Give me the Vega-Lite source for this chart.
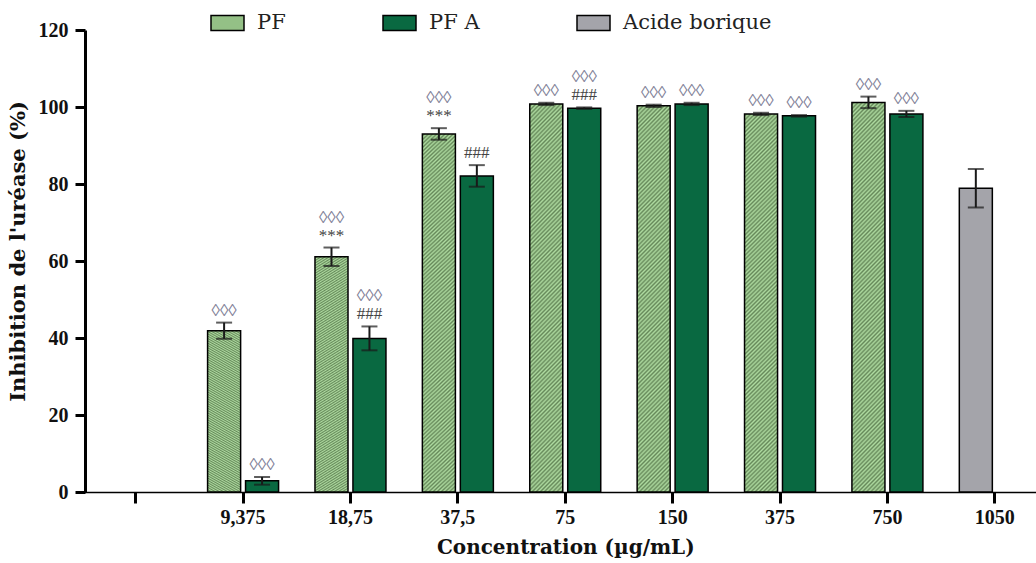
{
  "$schema": "https://vega.github.io/schema/vega-lite/v6.json",
  "autosize": {"type": "none"},
  "width": 951,
  "height": 462,
  "padding": {"left": 85, "top": 30, "right": 0, "bottom": 71},
  "background": "white",
  "config": {
    "view": {"stroke": null},
    "axis": {"grid": false, "domainColor": "black", "tickColor": "black", "labelColor": "#111", "titleColor": "#111"}
  },
  "data": {
    "values": [
      {"conc": "9,375", "series": "PF", "slot": "a", "value": 41.9, "lo": 39.8, "hi": 44.0, "sig": "◊◊◊", "sigTop": ""},
      {"conc": "9,375", "series": "PF A", "slot": "b", "value": 2.9, "lo": 1.9, "hi": 3.9, "sig": "◊◊◊", "sigTop": ""},
      {"conc": "18,75", "series": "PF", "slot": "a", "value": 61.1, "lo": 58.7, "hi": 63.5, "sig": "***", "sigTop": "◊◊◊"},
      {"conc": "18,75", "series": "PF A", "slot": "b", "value": 39.9, "lo": 36.8, "hi": 43.0, "sig": "###", "sigTop": "◊◊◊"},
      {"conc": "37,5", "series": "PF", "slot": "a", "value": 93.0, "lo": 91.5, "hi": 94.5, "sig": "***", "sigTop": "◊◊◊"},
      {"conc": "37,5", "series": "PF A", "slot": "b", "value": 82.1, "lo": 79.3, "hi": 84.9, "sig": "###", "sigTop": ""},
      {"conc": "75", "series": "PF", "slot": "a", "value": 100.8, "lo": 100.5, "hi": 101.1, "sig": "◊◊◊", "sigTop": ""},
      {"conc": "75", "series": "PF A", "slot": "b", "value": 99.7, "lo": 99.5, "hi": 99.9, "sig": "###", "sigTop": "◊◊◊"},
      {"conc": "150", "series": "PF", "slot": "a", "value": 100.3, "lo": 100.0, "hi": 100.6, "sig": "◊◊◊", "sigTop": ""},
      {"conc": "150", "series": "PF A", "slot": "b", "value": 100.8, "lo": 100.5, "hi": 101.1, "sig": "◊◊◊", "sigTop": ""},
      {"conc": "375", "series": "PF", "slot": "a", "value": 98.2, "lo": 97.9, "hi": 98.5, "sig": "◊◊◊", "sigTop": ""},
      {"conc": "375", "series": "PF A", "slot": "b", "value": 97.7, "lo": 97.5, "hi": 97.9, "sig": "◊◊◊", "sigTop": ""},
      {"conc": "750", "series": "PF", "slot": "a", "value": 101.2, "lo": 99.7, "hi": 102.7, "sig": "◊◊◊", "sigTop": ""},
      {"conc": "750", "series": "PF A", "slot": "b", "value": 98.2, "lo": 97.4, "hi": 99.0, "sig": "◊◊◊", "sigTop": ""},
      {"conc": "1050", "series": "Acide borique", "slot": "a", "value": 78.9, "lo": 73.9, "hi": 83.9, "sig": "", "sigTop": ""}
    ]
  },
  "encoding": {
    "x": {
      "field": "conc",
      "type": "nominal",
      "sort": null,
      "scale": {
        "domain": [" ", "9,375", "18,75", "37,5", "75", "150", "375", "750", "1050"],
        "range": [-3, 963.5],
        "paddingInner": 0.339,
        "paddingOuter": 0.1695
      },
      "axis": {
        "title": "Concentration (µg/mL)",
        "titleFont": "DejaVu Serif",
        "titleFontWeight": "bold",
        "titleFontSize": 20,
        "titlePadding": 10,
        "labelFont": "Liberation Serif",
        "labelFontWeight": "bold",
        "labelFontSize": 20,
        "labelAngle": 0,
        "labelPadding": 4,
        "tickSize": 11,
        "tickWidth": 3,
        "domainWidth": 1.5
      }
    },
    "xOffset": {
      "field": "slot",
      "type": "nominal",
      "scale": {"domain": ["a", "b"], "paddingInner": 0.13, "paddingOuter": 0}
    }
  },
  "layer": [
    {
      "mark": {"type": "bar", "stroke": "black", "strokeWidth": 1.5},
      "encoding": {
        "y": {
          "field": "value",
          "type": "quantitative",
          "scale": {"domain": [0, 120], "nice": false},
          "axis": {
            "values": [0, 20, 40, 60, 80, 100, 120],
            "title": "Inhibition de l'uréase (%)",
            "titleFont": "DejaVu Serif",
            "titleFontWeight": "bold",
            "titleFontSize": 21,
            "titlePadding": 10,
            "titleY": 221,
            "labelFont": "Liberation Serif",
            "labelFontWeight": "bold",
            "labelFontSize": 20,
            "labelPadding": 7,
            "tickSize": 10,
            "tickWidth": 3,
            "domainWidth": 3
          }
        },
        "fill": {
          "condition": {
            "test": "datum.series === 'PF'",
            "value": {
              "gradient": "linear", "x1": 0, "y1": 0, "x2": 0.094, "y2": 1.079,
              "stops": [
                {"offset":0,"color":"#aedba0"},{"offset":0.005,"color":"#66895a"},{"offset":0.01,"color":"#aedba0"},{"offset":0.015,"color":"#66895a"},
                {"offset":0.02,"color":"#aedba0"},{"offset":0.025,"color":"#66895a"},{"offset":0.03,"color":"#aedba0"},{"offset":0.035,"color":"#66895a"},
                {"offset":0.04,"color":"#aedba0"},{"offset":0.045,"color":"#66895a"},{"offset":0.05,"color":"#aedba0"},{"offset":0.055,"color":"#66895a"},
                {"offset":0.06,"color":"#aedba0"},{"offset":0.065,"color":"#66895a"},{"offset":0.07,"color":"#aedba0"},{"offset":0.075,"color":"#66895a"},
                {"offset":0.08,"color":"#aedba0"},{"offset":0.085,"color":"#66895a"},{"offset":0.09,"color":"#aedba0"},{"offset":0.095,"color":"#66895a"},
                {"offset":0.1,"color":"#aedba0"},{"offset":0.105,"color":"#66895a"},{"offset":0.11,"color":"#aedba0"},{"offset":0.115,"color":"#66895a"},
                {"offset":0.12,"color":"#aedba0"},{"offset":0.125,"color":"#66895a"},{"offset":0.13,"color":"#aedba0"},{"offset":0.135,"color":"#66895a"},
                {"offset":0.14,"color":"#aedba0"},{"offset":0.145,"color":"#66895a"},{"offset":0.15,"color":"#aedba0"},{"offset":0.155,"color":"#66895a"},
                {"offset":0.16,"color":"#aedba0"},{"offset":0.165,"color":"#66895a"},{"offset":0.17,"color":"#aedba0"},{"offset":0.175,"color":"#66895a"},
                {"offset":0.18,"color":"#aedba0"},{"offset":0.185,"color":"#66895a"},{"offset":0.19,"color":"#aedba0"},{"offset":0.195,"color":"#66895a"},
                {"offset":0.2,"color":"#aedba0"},{"offset":0.205,"color":"#66895a"},{"offset":0.21,"color":"#aedba0"},{"offset":0.215,"color":"#66895a"},
                {"offset":0.22,"color":"#aedba0"},{"offset":0.225,"color":"#66895a"},{"offset":0.23,"color":"#aedba0"},{"offset":0.235,"color":"#66895a"},
                {"offset":0.24,"color":"#aedba0"},{"offset":0.245,"color":"#66895a"},{"offset":0.25,"color":"#aedba0"},{"offset":0.255,"color":"#66895a"},
                {"offset":0.26,"color":"#aedba0"},{"offset":0.265,"color":"#66895a"},{"offset":0.27,"color":"#aedba0"},{"offset":0.275,"color":"#66895a"},
                {"offset":0.28,"color":"#aedba0"},{"offset":0.285,"color":"#66895a"},{"offset":0.29,"color":"#aedba0"},{"offset":0.295,"color":"#66895a"},
                {"offset":0.3,"color":"#aedba0"},{"offset":0.305,"color":"#66895a"},{"offset":0.31,"color":"#aedba0"},{"offset":0.315,"color":"#66895a"},
                {"offset":0.32,"color":"#aedba0"},{"offset":0.325,"color":"#66895a"},{"offset":0.33,"color":"#aedba0"},{"offset":0.335,"color":"#66895a"},
                {"offset":0.34,"color":"#aedba0"},{"offset":0.345,"color":"#66895a"},{"offset":0.35,"color":"#aedba0"},{"offset":0.355,"color":"#66895a"},
                {"offset":0.36,"color":"#aedba0"},{"offset":0.365,"color":"#66895a"},{"offset":0.37,"color":"#aedba0"},{"offset":0.375,"color":"#66895a"},
                {"offset":0.38,"color":"#aedba0"},{"offset":0.385,"color":"#66895a"},{"offset":0.39,"color":"#aedba0"},{"offset":0.395,"color":"#66895a"},
                {"offset":0.4,"color":"#aedba0"},{"offset":0.405,"color":"#66895a"},{"offset":0.41,"color":"#aedba0"},{"offset":0.415,"color":"#66895a"},
                {"offset":0.42,"color":"#aedba0"},{"offset":0.425,"color":"#66895a"},{"offset":0.43,"color":"#aedba0"},{"offset":0.435,"color":"#66895a"},
                {"offset":0.44,"color":"#aedba0"},{"offset":0.445,"color":"#66895a"},{"offset":0.45,"color":"#aedba0"},{"offset":0.455,"color":"#66895a"},
                {"offset":0.46,"color":"#aedba0"},{"offset":0.465,"color":"#66895a"},{"offset":0.47,"color":"#aedba0"},{"offset":0.475,"color":"#66895a"},
                {"offset":0.48,"color":"#aedba0"},{"offset":0.485,"color":"#66895a"},{"offset":0.49,"color":"#aedba0"},{"offset":0.495,"color":"#66895a"},
                {"offset":0.5,"color":"#aedba0"},{"offset":0.505,"color":"#66895a"},{"offset":0.51,"color":"#aedba0"},{"offset":0.515,"color":"#66895a"},
                {"offset":0.52,"color":"#aedba0"},{"offset":0.525,"color":"#66895a"},{"offset":0.53,"color":"#aedba0"},{"offset":0.535,"color":"#66895a"},
                {"offset":0.54,"color":"#aedba0"},{"offset":0.545,"color":"#66895a"},{"offset":0.55,"color":"#aedba0"},{"offset":0.555,"color":"#66895a"},
                {"offset":0.56,"color":"#aedba0"},{"offset":0.565,"color":"#66895a"},{"offset":0.57,"color":"#aedba0"},{"offset":0.575,"color":"#66895a"},
                {"offset":0.58,"color":"#aedba0"},{"offset":0.585,"color":"#66895a"},{"offset":0.59,"color":"#aedba0"},{"offset":0.595,"color":"#66895a"},
                {"offset":0.6,"color":"#aedba0"},{"offset":0.605,"color":"#66895a"},{"offset":0.61,"color":"#aedba0"},{"offset":0.615,"color":"#66895a"},
                {"offset":0.62,"color":"#aedba0"},{"offset":0.625,"color":"#66895a"},{"offset":0.63,"color":"#aedba0"},{"offset":0.635,"color":"#66895a"},
                {"offset":0.64,"color":"#aedba0"},{"offset":0.645,"color":"#66895a"},{"offset":0.65,"color":"#aedba0"},{"offset":0.655,"color":"#66895a"},
                {"offset":0.66,"color":"#aedba0"},{"offset":0.665,"color":"#66895a"},{"offset":0.67,"color":"#aedba0"},{"offset":0.675,"color":"#66895a"},
                {"offset":0.68,"color":"#aedba0"},{"offset":0.685,"color":"#66895a"},{"offset":0.69,"color":"#aedba0"},{"offset":0.695,"color":"#66895a"},
                {"offset":0.7,"color":"#aedba0"},{"offset":0.705,"color":"#66895a"},{"offset":0.71,"color":"#aedba0"},{"offset":0.715,"color":"#66895a"},
                {"offset":0.72,"color":"#aedba0"},{"offset":0.725,"color":"#66895a"},{"offset":0.73,"color":"#aedba0"},{"offset":0.735,"color":"#66895a"},
                {"offset":0.74,"color":"#aedba0"},{"offset":0.745,"color":"#66895a"},{"offset":0.75,"color":"#aedba0"},{"offset":0.755,"color":"#66895a"},
                {"offset":0.76,"color":"#aedba0"},{"offset":0.765,"color":"#66895a"},{"offset":0.77,"color":"#aedba0"},{"offset":0.775,"color":"#66895a"},
                {"offset":0.78,"color":"#aedba0"},{"offset":0.785,"color":"#66895a"},{"offset":0.79,"color":"#aedba0"},{"offset":0.795,"color":"#66895a"},
                {"offset":0.8,"color":"#aedba0"},{"offset":0.805,"color":"#66895a"},{"offset":0.81,"color":"#aedba0"},{"offset":0.815,"color":"#66895a"},
                {"offset":0.82,"color":"#aedba0"},{"offset":0.825,"color":"#66895a"},{"offset":0.83,"color":"#aedba0"},{"offset":0.835,"color":"#66895a"},
                {"offset":0.84,"color":"#aedba0"},{"offset":0.845,"color":"#66895a"},{"offset":0.85,"color":"#aedba0"},{"offset":0.855,"color":"#66895a"},
                {"offset":0.86,"color":"#aedba0"},{"offset":0.865,"color":"#66895a"},{"offset":0.87,"color":"#aedba0"},{"offset":0.875,"color":"#66895a"},
                {"offset":0.88,"color":"#aedba0"},{"offset":0.885,"color":"#66895a"},{"offset":0.89,"color":"#aedba0"},{"offset":0.895,"color":"#66895a"},
                {"offset":0.9,"color":"#aedba0"},{"offset":0.905,"color":"#66895a"},{"offset":0.91,"color":"#aedba0"},{"offset":0.915,"color":"#66895a"},
                {"offset":0.92,"color":"#aedba0"},{"offset":0.925,"color":"#66895a"},{"offset":0.93,"color":"#aedba0"},{"offset":0.935,"color":"#66895a"},
                {"offset":0.94,"color":"#aedba0"},{"offset":0.945,"color":"#66895a"},{"offset":0.95,"color":"#aedba0"},{"offset":0.955,"color":"#66895a"},
                {"offset":0.96,"color":"#aedba0"},{"offset":0.965,"color":"#66895a"},{"offset":0.97,"color":"#aedba0"},{"offset":0.975,"color":"#66895a"},
                {"offset":0.98,"color":"#aedba0"},{"offset":0.985,"color":"#66895a"},{"offset":0.99,"color":"#aedba0"},{"offset":0.995,"color":"#66895a"},
                {"offset":1,"color":"#aedba0"}
              ]
            }
          },
          "field": "series",
          "type": "nominal",
          "scale": {"domain": ["PF", "PF A", "Acide borique"], "range": ["#94c086", "#096941", "#a4a4aa"]},
          "legend": {
            "title": null,
            "orient": "none",
            "legendX": 125,
            "legendY": -24.5,
            "direction": "horizontal",
            "columns": 3,
            "columnPadding": 94,
            "padding": 0,
            "symbolType": "M-1,-0.45H1V0.45H-1Z",
            "symbolSize": 1089,
            "labelFont": "DejaVu Serif",
            "labelFontSize": 21,
            "labelColor": "#222",
            "labelOffset": 12
          }
        }
      }
    },
    {
      "mark": {"type": "rule", "color": "#1a1a1a", "strokeWidth": 2},
      "encoding": {
        "y": {"field": "lo", "type": "quantitative"},
        "y2": {"field": "hi"}
      }
    },
    {
      "mark": {"type": "tick", "color": "#1a1a1a", "thickness": 2, "size": 16},
      "encoding": {"y": {"field": "lo", "type": "quantitative"}}
    },
    {
      "mark": {"type": "tick", "color": "#1a1a1a", "thickness": 2, "size": 16},
      "encoding": {"y": {"field": "hi", "type": "quantitative"}}
    },
    {
      "mark": {"type": "text", "font": "Liberation Serif", "fontSize": 17, "baseline": "middle", "dy": -12},
      "encoding": {
        "y": {"field": "hi", "type": "quantitative"},
        "text": {"field": "sig"},
        "color": {"condition": {"test": "datum.sig === '◊◊◊'", "value": "#7e7e96"}, "value": "#444444"}
      }
    },
    {
      "mark": {"type": "text", "font": "Liberation Serif", "fontSize": 17, "baseline": "middle", "dy": -30, "color": "#7e7e96"},
      "encoding": {
        "y": {"field": "hi", "type": "quantitative"},
        "text": {"field": "sigTop"}
      }
    }
  ]
}
